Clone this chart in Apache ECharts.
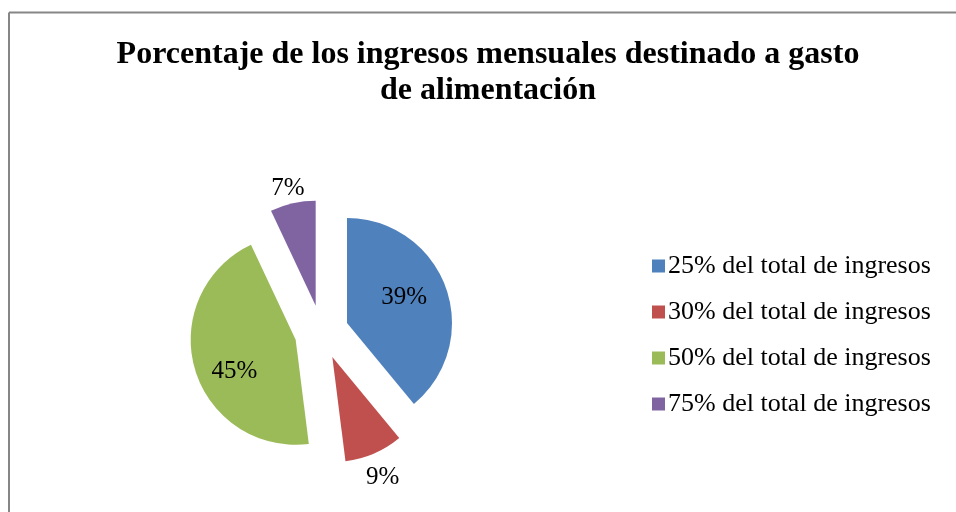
<!DOCTYPE html>
<html>
<head>
<meta charset="utf-8">
<script src="https://cdn.jsdelivr.net/npm/echarts@6/dist/echarts.min.js"></script>
<style>
html,body{margin:0;padding:0;background:#fff;}
#chart{width:956px;height:512px;}
</style>
</head>
<body>
<div id="chart"></div>
<script>
var titleText = 'Porcentaje de los ingresos mensuales destinado a gasto\nde alimentación';
var categories = ['25% del total de ingresos', '30% del total de ingresos', '50% del total de ingresos', '75% del total de ingresos'];
var values = [39, 9, 45, 7];
var colors = ['#4F81BD', '#C0504D', '#9BBB59', '#8064A2'];
var labelPositions = ['inside', 'outside', 'inside', 'outside'];
// small nudges of the percentage labels (pixels), to match the original label placement
var labelNudges = [[5, -7], [-17, 15], [-8, 16], [19, -5]];

var chart = echarts.init(document.getElementById('chart'), null, {renderer: 'canvas'});
var font = '"Liberation Serif", "Times New Roman", serif';

var data = categories.map(function (name, i) {
  var outside = labelPositions[i] === 'outside';
  return {
    name: name,
    value: values[i],
    selected: true,
    itemStyle: {color: colors[i]},
    label: {position: labelPositions[i]},
    labelLine: {show: false, length: outside ? 10 : 0, length2: 0}
  };
});

chart.setOption({
  animation: false,
  backgroundColor: '#fff',
  title: {
    text: titleText,
    left: 483,
    top: 32,
    textAlign: 'center',
    textStyle: {fontFamily: font, fontSize: 32, fontWeight: 'bold', color: '#000', lineHeight: 35.5}
  },
  legend: {
    orient: 'vertical',
    left: 647,
    top: 248,
    itemWidth: 13,
    itemHeight: 13,
    itemGap: 20,
    icon: 'rect',
    selectedMode: false,
    textStyle: {fontFamily: font, fontSize: 26, color: '#000', lineHeight: 26, padding: [0, 0, 0, -2]},
    data: categories
  },
  series: [{
    type: 'pie',
    center: [321.6, 332.2],
    radius: [0, 105],
    startAngle: 90,
    clockwise: true,
    selectedMode: 'multiple',
    selectedOffset: 27,
    silent: true,
    avoidLabelOverlap: false,
    itemStyle: {borderWidth: 0},
    label: {
      show: true,
      formatter: '{d}%',
      fontFamily: font,
      fontSize: 25,
      color: '#000'
    },
    labelLayout: function (params) {
      var n = labelNudges[params.dataIndex] || [0, 0];
      return {dx: n[0], dy: n[1]};
    },
    select: {itemStyle: {borderWidth: 0}},
    emphasis: {disabled: true},
    data: data
  }],
  graphic: [
    {type: 'line', shape: {x1: 9, y1: 12.5, x2: 956, y2: 12.5}, style: {stroke: '#868686', lineWidth: 2}, silent: true},
    {type: 'line', shape: {x1: 9, y1: 12.5, x2: 9, y2: 512}, style: {stroke: '#868686', lineWidth: 2}, silent: true}
  ]
});
</script>
</body>
</html>
